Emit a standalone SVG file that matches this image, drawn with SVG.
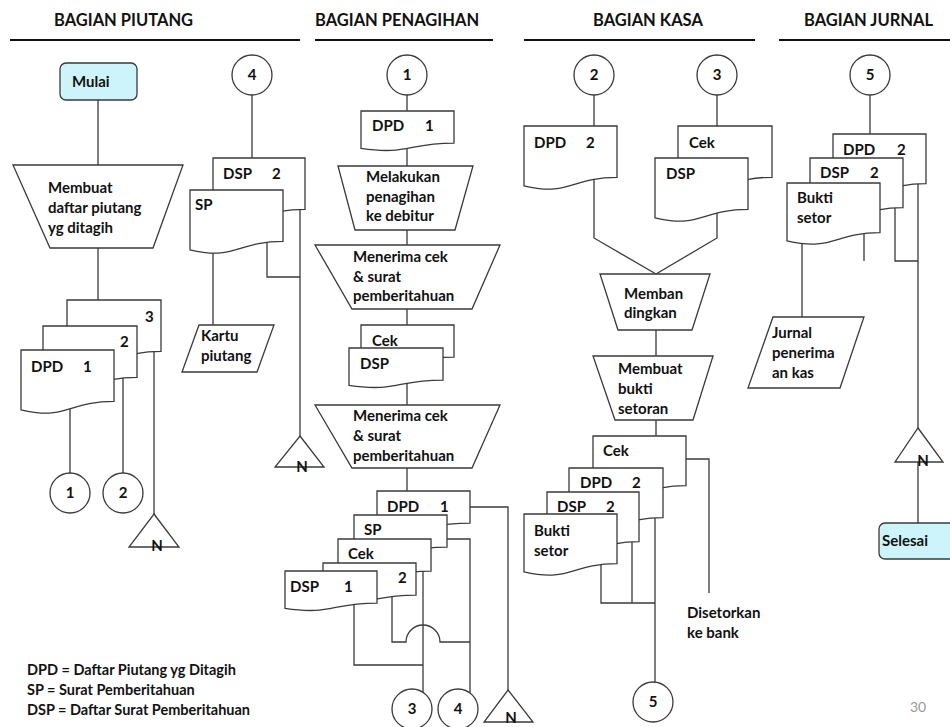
<svg xmlns="http://www.w3.org/2000/svg" width="950" height="727" viewBox="0 0 950 727">
<style>
.s{fill:#fff;stroke:#3a3a3a;stroke-width:1.3}
.c{fill:none;stroke:#3a3a3a;stroke-width:1.3}
.term{fill:#ccf4fa;stroke:#3a3a3a;stroke-width:1.3}
.hl{stroke:#111;stroke-width:2}
text{font-family:Lato,"Liberation Sans",sans-serif;font-weight:bold;font-size:15px;fill:#111}
.hd{font-size:16.5px}
.lg{font-size:14.5px}
.m{text-anchor:middle}
.pg{font-weight:normal;fill:#999;font-size:14px}
</style>
<rect width="950" height="727" fill="#fff"/>
<g id="headers">
<text class="hd" x="54" y="26">BAGIAN PIUTANG</text>
<text class="hd" x="315" y="26">BAGIAN PENAGIHAN</text>
<text class="hd" x="593" y="26">BAGIAN KASA</text>
<text class="hd" x="804" y="26">BAGIAN JURNAL</text>
<line class="hl" x1="10" y1="40" x2="300" y2="40"/>
<line class="hl" x1="315" y1="40" x2="493" y2="40"/>
<line class="hl" x1="524" y1="40" x2="755" y2="40"/>
<line class="hl" x1="779" y1="40" x2="950" y2="40"/>
</g>
<g id="connectors">
<path class="c" d="M98,100 V165 M98,248 V300"/>
<path class="c" d="M70,400 V473 M123,370 V473 M154,345 V514"/>
<path class="c" d="M252,95 V160 M300,200 V436 M267,240 V277 H300 M213,245 V326"/>
<path class="c" d="M407,95 V112 M407,140 V166 M407,230 V245 M407,309 V326 M407,380 V405 M407,468 V492"/>
<path class="c" d="M470,507 H508 V690 M447,539 H470 V693 M423,570 V692 M354,605 V665 H423"/>
<path class="c" d="M392,594 V642 H406 A17,17 0 0 1 440,642 H470"/>
<path class="c" d="M594,95 V127 M717,95 V127 M594,175 V238 L656,274 M717,205 V238 L656,274"/>
<path class="c" d="M656,330 V356 M656,420 V437 M686,459 H709 V593 M655,515 V684 M632,540 V603 M601,565 V603 H655"/>
<path class="c" d="M870,95 V135 M918,180 V428 M895,205 V261 H918 M864,230 V261 M802,238 V317 M918,462 V523"/>
</g>
<g id="mulai"><rect class="term" x="60" y="63" width="77" height="37" rx="6"/><text x="72" y="87">Mulai</text></g>
<g id="membuat-daftar"><polygon class="s" points="13,165 183,165 153,248 50,248"/>
<text x="48" y="193">Membuat</text><text x="48" y="213">daftar piutang</text><text x="48" y="233">yg ditagih</text></g>
<g id="dpd-stack-piutang">
<path class="s" d="M67,300 H161 V351.3 C114,351.3 114,370.8 67,359.8 Z"/>
<path class="s" d="M43,326 H137 V377.3 C90,377.3 90,396.8 43,385.8 Z"/>
<path class="s" d="M21,350 H114 V401.3 C67.5,401.3 67.5,420.8 21,409.8 Z"/>
<text x="145" y="322">3</text><text x="120" y="347">2</text><text x="31" y="372">DPD</text><text x="83" y="372">1</text>
</g>
<g id="p-c1"><circle class="s" cx="70" cy="493" r="20"/><text class="m" x="70" y="498">1</text></g>
<g id="p-c2"><circle class="s" cx="123" cy="493" r="20"/><text class="m" x="123" y="498">2</text></g>
<g id="p-n1"><polygon class="s" points="154,514 179,547 129,547"/><text class="m" x="157" y="551">N</text></g>
<g id="p-c4"><circle class="s" cx="252" cy="75" r="20"/><text class="m" x="252" y="80">4</text></g>
<g id="dsp-sp-piutang">
<path class="s" d="M213,158 H305 V209.3 C259,209.3 259,226.8 213,217.8 Z"/>
<path class="s" d="M190,190 H283 V241.3 C236.5,241.3 236.5,260.8 190,249.8 Z"/>
<text x="223" y="179">DSP</text><text x="272" y="179">2</text><text x="195" y="210">SP</text>
</g>
<g id="p-n2"><polygon class="s" points="300,436 324,467 275,467"/><text class="m" x="302" y="472">N</text></g>
<g id="kartu"><polygon class="s" points="199,325 274,325 257,372 182,372"/><text x="201" y="341">Kartu</text><text x="201" y="361">piutang</text></g>
<g id="legend">
<text class="lg" x="27" y="675">DPD = Daftar Piutang yg Ditagih</text>
<text class="lg" x="27" y="695">SP = Surat Pemberitahuan</text>
<text class="lg" x="27" y="715">DSP = Daftar Surat Pemberitahuan</text>
</g>
<g id="g-c1"><circle class="s" cx="407" cy="75" r="20"/><text class="m" x="407" y="80">1</text></g>
<g id="g-dpd1"><path class="s" d="M361,111 H454 V143.1 C407.5,143.1 407.5,155.3 361,148.4 Z"/><text x="372" y="131">DPD</text><text x="425" y="131">1</text></g>
<g id="melakukan"><polygon class="s" points="338,166 473,166 455,230 355,230"/>
<text x="366" y="182">Melakukan</text><text x="366" y="202">penagihan</text><text x="366" y="221">ke debitur</text></g>
<g id="menerima1"><polygon class="s" points="315,245 500,245 472,309 352,309"/>
<text x="353" y="262">Menerima cek</text><text x="353" y="282">&amp; surat</text><text x="353" y="301">pemberitahuan</text></g>
<g id="g-cek-dsp">
<path class="s" d="M361,325 H454 V357.1 C407.5,357.1 407.5,369.3 361,362.4 Z"/>
<path class="s" d="M349,348 H443 V380.1 C396,380.1 396,392.3 349,385.4 Z"/>
<text x="372" y="346">Cek</text><text x="360" y="369">DSP</text>
</g>
<g id="menerima2"><polygon class="s" points="315,405 500,405 472,468 352,468"/>
<text x="353" y="421">Menerima cek</text><text x="353" y="441">&amp; surat</text><text x="353" y="461">pemberitahuan</text></g>
<g id="g-stack">
<path class="s" d="M377,491 H470 V523.1 C423.5,523.1 423.5,535.3 377,528.4 Z"/>
<path class="s" d="M354,515 H447 V547.1 C400.5,547.1 400.5,559.3 354,552.4 Z"/>
<path class="s" d="M338,539 H431 V571.1 C384.5,571.1 384.5,583.3 338,576.4 Z"/>
<path class="s" d="M323,563 H416 V595.1 C369.5,595.1 369.5,607.3 323,600.4 Z"/>
<path class="s" d="M285,571 H377 V603.1 C331,603.1 331,615.3 285,608.4 Z"/>
<text x="387" y="512">DPD</text><text x="440" y="512">1</text>
<text x="364" y="535">SP</text><text x="348" y="559">Cek</text><text x="398" y="583">2</text>
<text x="290" y="592">DSP</text><text x="344" y="592">1</text>
</g>
<g id="g-c3"><circle class="s" cx="412" cy="709" r="20"/><text class="m" x="412" y="714">3</text></g>
<g id="g-c4"><circle class="s" cx="458" cy="709" r="20"/><text class="m" x="458" y="714">4</text></g>
<g id="g-n"><polygon class="s" points="508,690 533,722 484,722"/><text class="m" x="511" y="723">N</text></g>
<g id="k-c2"><circle class="s" cx="594" cy="75" r="20"/><text class="m" x="594" y="80">2</text></g>
<g id="k-dpd2"><path class="s" d="M524,126 H617 V177.3 C570.5,177.3 570.5,196.8 524,185.8 Z"/><text x="534" y="148">DPD</text><text x="586" y="148">2</text></g>
<g id="k-c3"><circle class="s" cx="717" cy="75" r="20"/><text class="m" x="717" y="80">3</text></g>
<g id="k-cek-dsp">
<path class="s" d="M678,126 H772 V177.3 C725,177.3 725,196.8 678,185.8 Z"/>
<path class="s" d="M655,158 H748 V209.3 C701.5,209.3 701.5,228.8 655,217.8 Z"/>
<text x="689" y="148">Cek</text><text x="666" y="179">DSP</text>
</g>
<g id="membandingkan"><polygon class="s" points="600,274 710,274 692,330 618,330"/><text x="624" y="299">Memban</text><text x="624" y="318">dingkan</text></g>
<g id="membuat-bukti"><polygon class="s" points="593,356 713,356 693,420 615,420"/>
<text x="618" y="374">Membuat</text><text x="618" y="394">bukti</text><text x="618" y="414">setoran</text></g>
<g id="k-stack">
<path class="s" d="M593,436 H686 V485.7 C639.5,485.7 639.5,504.6 593,493.9 Z"/>
<path class="s" d="M569,468 H663 V517.7 C616,517.7 616,536.6 569,525.9 Z"/>
<path class="s" d="M547,492 H639 V541.7 C593,541.7 593,560.6 547,549.9 Z"/>
<path class="s" d="M524,514 H617 V563.7 C570.5,563.7 570.5,582.6 524,571.9 Z"/>
<text x="603" y="456">Cek</text><text x="580" y="488">DPD</text><text x="632" y="488">2</text>
<text x="557" y="512">DSP</text><text x="606" y="512">2</text>
<text x="534" y="536">Bukti</text><text x="534" y="556">setor</text>
</g>
<g id="disetorkan"><text x="687" y="618">Disetorkan</text><text x="687" y="638">ke bank</text></g>
<g id="k-c5"><circle class="s" cx="653" cy="702" r="20"/><text class="m" x="653" y="707">5</text></g>
<g id="j-c5"><circle class="s" cx="870" cy="75" r="20"/><text class="m" x="870" y="80">5</text></g>
<g id="j-stack">
<path class="s" d="M833,134 H926 V183.7 C879.5,183.7 879.5,202.6 833,191.9 Z"/>
<path class="s" d="M810,158 H903 V207.7 C856.5,207.7 856.5,226.6 810,215.9 Z"/>
<path class="s" d="M787,183 H880 V232.7 C833.5,232.7 833.5,251.6 787,240.9 Z"/>
<text x="843" y="155">DPD</text><text x="897" y="155">2</text>
<text x="820" y="178">DSP</text><text x="870" y="178">2</text>
<text x="797" y="203">Bukti</text><text x="797" y="223">setor</text>
</g>
<g id="jurnal"><polygon class="s" points="773,317 864,317 840,388 748,388"/>
<text x="772" y="338">Jurnal</text><text x="772" y="358">penerima</text><text x="772" y="378">an kas</text></g>
<g id="j-n"><polygon class="s" points="918,428 943,462 895,462"/><text class="m" x="923" y="466">N</text></g>
<g id="selesai"><rect class="term" x="879" y="523" width="90" height="36" rx="6"/><text x="882" y="546">Selesai</text></g>
<text class="pg" x="910" y="712">30</text>
</svg>
